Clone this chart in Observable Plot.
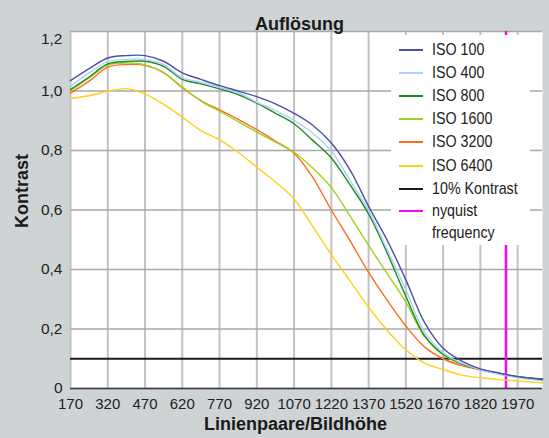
<!DOCTYPE html>
<html>
<head>
<meta charset="utf-8">
<script src="https://cdn.jsdelivr.net/npm/d3@7"></script>
<script src="https://cdn.jsdelivr.net/npm/@observablehq/plot@0.6"></script>
<style>
  html, body { margin: 0; padding: 0; background: #ced3d6; }
  #wrap { position: relative; width: 549px; height: 438px; background: #ced3d6; overflow: hidden; }
  #legend { position: absolute; left: 391px; top: 35px; width: 139px; height: 210px; background: #fff;
    font-family: "Liberation Sans", Arial, sans-serif;
    font-size: 17px; color: #222; padding-top: 3px; box-sizing: border-box; }
  .row { display: flex; align-items: center; height: 23.2px; white-space: nowrap; }
  .sw { width: 24px; height: 2px; margin-left: 8px; margin-right: 9px; flex: none; }
  .lab { display: inline-block; transform: scaleX(0.84); transform-origin: left center; }
  .row.multi { align-items: flex-start; height: auto; line-height: 22px; }
  .row.multi .sw { margin-top: 10px; }
</style>
</head>
<body>
<div id="wrap"><div id="legend"></div></div>
<script>
// ---- data ----
const lpbh = [170,245,320,395,470,545,620,695,770,845,920,995,1070,1145,1220,1295,1370,1445,1520,1595,1670,1745,1820,1895,1970,2070];
const iso100  = [1.035,1.075,1.111,1.119,1.119,1.100,1.061,1.039,1.018,1.000,0.981,0.957,0.925,0.885,0.825,0.735,0.612,0.498,0.365,0.222,0.135,0.092,0.066,0.052,0.040,0.030];
const iso400  = [1.016,1.061,1.099,1.106,1.106,1.089,1.044,1.030,1.012,0.995,0.962,0.934,0.901,0.858,0.798,0.700,0.598,0.466,0.332,0.190,0.120,0.085,0.063,0.048,0.037,0.026];
const iso800  = [1.005,1.047,1.091,1.099,1.100,1.083,1.039,1.024,1.007,0.988,0.959,0.925,0.890,0.834,0.775,0.685,0.587,0.455,0.310,0.178,0.115,0.083,0.064,0.050,0.040,0.032];
const iso1600 = [1.000,1.044,1.087,1.094,1.088,1.061,1.013,0.966,0.932,0.897,0.862,0.828,0.794,0.741,0.675,0.580,0.481,0.386,0.290,0.175,0.113,0.082,0.064,0.050,0.040,0.032];
const iso3200 = [0.993,1.033,1.080,1.089,1.086,1.062,1.011,0.968,0.937,0.905,0.870,0.832,0.791,0.710,0.600,0.497,0.390,0.296,0.210,0.140,0.100,0.077,0.063,0.050,0.040,0.030];
const iso6400 = [0.975,0.984,0.999,1.008,0.990,0.955,0.912,0.867,0.836,0.794,0.744,0.694,0.637,0.545,0.450,0.362,0.273,0.195,0.130,0.085,0.064,0.045,0.036,0.030,0.025,0.019];
const seriesNames = ["ISO 100","ISO 400","ISO 800","ISO 1600","ISO 3200","ISO 6400"];
const seriesValues = [iso100, iso400, iso800, iso1600, iso3200, iso6400];
const seriesColors = ["#4f4fa8","#a8d2fb","#1f8a1f","#9fd21c","#ff6c1e","#ffd01c"];
const kontrast10 = 0.1;
const nyquist = 1923;
const xTicks = [170,320,470,620,770,920,1070,1220,1370,1520,1670,1820,1970];
const yTicks = [0,0.2,0.4,0.6,0.8,1.0,1.2];
const legendNames = [...seriesNames, "10% Kontrast", "nyquist frequency"];
const legendColors = [...seriesColors, "#1a1a1a", "#ff00ff"];

const rows = seriesNames.flatMap((s, i) => lpbh.map((x, j) => ({series: s, x, y: seriesValues[i][j]})));
const fmt = d => d === 0 ? "0" : d.toFixed(1).replace(".", ",");
const font = "'Liberation Sans', Arial, sans-serif";

const chart = Plot.plot({
  width: 549, height: 438,
  marginLeft: 70, marginRight: 7, marginTop: 31, marginBottom: 50,
  style: {background: "transparent", fontFamily: font, fontSize: "15px", color: "#222"},
  x: {domain: [170, 2070], axis: null},
  y: {domain: [0, 1.2], axis: null},
  color: {domain: seriesNames, range: seriesColors},
  marks: [
    Plot.frame({fill: "#fff", stroke: null}),
    Plot.gridX(xTicks, {stroke: "#c2c2c2", strokeWidth: 2, strokeOpacity: 1}),
    Plot.gridY(yTicks, {stroke: "#a9a9a9", strokeWidth: 1.6, strokeOpacity: 1}),
    Plot.ruleY([kontrast10], {stroke: "#1a1a1a", strokeWidth: 2}),
    Plot.ruleX([nyquist], {stroke: "#ff00ff", strokeWidth: 2.5}),
    Plot.lineY(rows.slice().reverse(), {x: "x", y: "y", z: "series", stroke: "series", strokeWidth: 1.4, curve: "catmull-rom"}),
    Plot.ruleY([0], {stroke: "#3a3a3a", strokeWidth: 1.5}),
    Plot.axisX(xTicks, {tickSize: 0, tickPadding: 10, tickFormat: d => String(d), fontSize: 15, fill: "#222", label: null}),
    Plot.axisY(yTicks.slice(0, 6), {tickSize: 0, tickPadding: 8, tickFormat: fmt, fontSize: 15.5, fill: "#222", label: null}),
    Plot.axisY([1.2], {tickSize: 0, tickPadding: 8, tickFormat: fmt, fontSize: 15.5, fill: "#222", label: null, dy: 8}),
    Plot.text(["Auflösung"], {frameAnchor: "top", dy: -14, dx: -7, fontSize: 18, fontWeight: "bold", fill: "#1a1a1a"}),
    Plot.text(["Linienpaare/Bildhöhe"], {frameAnchor: "bottom", dy: 41, dx: -11, fontSize: 18, fontWeight: "bold", fill: "#1a1a1a"}),
    Plot.text(["Kontrast"], {frameAnchor: "left", dx: -48, dy: 18, rotate: -90, fontSize: 18, fontWeight: "bold", fill: "#1a1a1a", letterSpacing: "1.5px"})
  ]
});
chart.style.position = "absolute";
chart.style.left = "0";
chart.style.top = "0";
document.getElementById("wrap").insertBefore(chart, document.getElementById("legend"));

const legend = document.getElementById("legend");
legendNames.forEach((name, i) => {
  const row = document.createElement("div");
  row.className = "row";
  const sw = document.createElement("span");
  sw.className = "sw";
  sw.style.background = legendColors[i];
  const label = document.createElement("span");
  label.className = "lab";
  if (name === "nyquist frequency") {
    row.className = "row multi";
    label.innerHTML = "nyquist<br>frequency";
  } else {
    label.textContent = name;
  }
  row.appendChild(sw);
  row.appendChild(label);
  legend.appendChild(row);
});
</script>
</body>
</html>
